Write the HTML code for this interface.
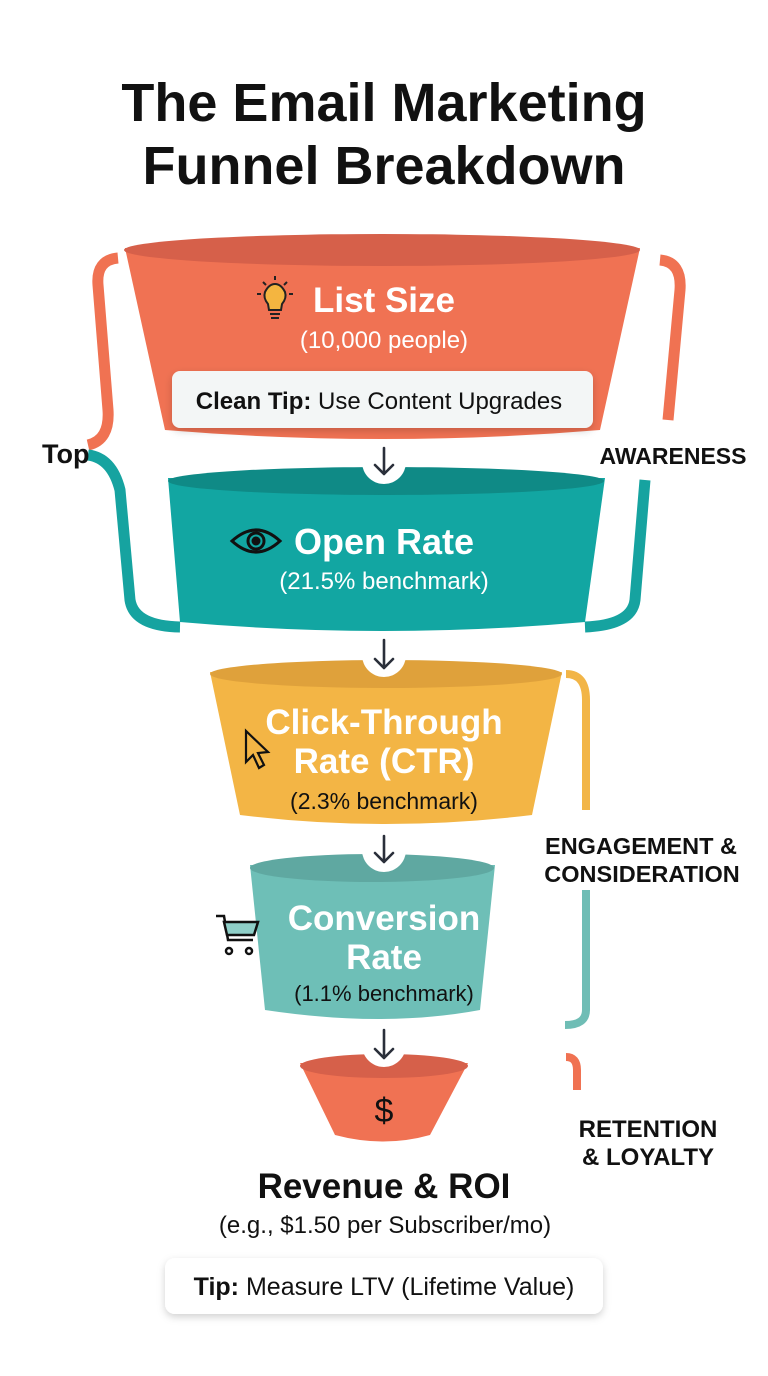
<!DOCTYPE html>
<html><head><meta charset="utf-8"><style>
html,body{margin:0;padding:0;background:#fff;}
svg{display:block;font-family:"Liberation Sans",sans-serif;}
</style></head><body>
<svg width="768" height="1376" viewBox="0 0 768 1376" xmlns="http://www.w3.org/2000/svg">
<defs>
<filter id="sh" x="-10%" y="-30%" width="120%" height="170%"><feDropShadow dx="0" dy="3" stdDeviation="4" flood-color="#000" flood-opacity="0.18"/></filter>
</defs>
<text x="384" y="121" text-anchor="middle" font-size="54" font-weight="bold" fill="#111">The Email Marketing</text>
<text x="384" y="184" text-anchor="middle" font-size="54" font-weight="bold" fill="#111">Funnel Breakdown</text>

<!-- brackets left -->
<path d="M118 258 Q96 260 98 285 L108 410 Q110 440 88 445" fill="none" stroke="#f07252" stroke-width="11"/>
<path d="M88 455 Q112 458 120 490 L130 600 Q134 626 180 627" fill="none" stroke="#16a3a0" stroke-width="11"/>
<text x="42" y="463" font-size="27" font-weight="bold" fill="#111">Top</text>
<!-- brackets right -->
<path d="M660 260 Q682 262 680 290 L668 420" fill="none" stroke="#f07252" stroke-width="11"/>
<path d="M645 480 L635 600 Q632 625 585 627" fill="none" stroke="#16a3a0" stroke-width="11"/>
<text x="673" y="464" text-anchor="middle" font-size="23" font-weight="bold" fill="#111">AWARENESS</text>
<path d="M566 674 Q586 674 586 700 L586 810" fill="none" stroke="#f2b547" stroke-width="8"/>
<path d="M586 890 L586 1010 Q586 1025 565 1025" fill="none" stroke="#6fbdb5" stroke-width="8"/>
<text x="641" y="854" text-anchor="middle" font-size="23.5" font-weight="bold" fill="#111">ENGAGEMENT &amp;</text>
<text x="642" y="882" text-anchor="middle" font-size="23.5" font-weight="bold" fill="#111">CONSIDERATION</text>
<path d="M566 1057 Q577 1057 577 1070 L577 1090" fill="none" stroke="#f07252" stroke-width="8"/>
<text x="648" y="1137" text-anchor="middle" font-size="24" font-weight="bold" fill="#111">RETENTION</text>
<text x="648" y="1165" text-anchor="middle" font-size="24" font-weight="bold" fill="#111">&amp; LOYALTY</text>

<!-- funnel 1 -->
<path d="M125 248 L640 248 L600 430 Q384 448 165 430 Z" fill="#f07253"/>
<ellipse cx="382" cy="250" rx="258" ry="16" fill="#d6604a"/>
<text x="384" y="312" text-anchor="middle" font-size="35" font-weight="bold" fill="#fff">List Size</text>
<g transform="translate(275,300)" fill="none" stroke="#222" stroke-width="2">
<path d="M-7 4 Q-12 -2 -10 -8 Q-6 -16 0 -16 Q6 -16 10 -8 Q12 -2 7 4 L6 10 L-6 10 Z" fill="#f4b540"/>
<line x1="-5" y1="14" x2="5" y2="14"/><line x1="-4" y1="18" x2="4" y2="18"/>
<line x1="-18" y1="-6" x2="-14" y2="-6"/><line x1="14" y1="-6" x2="18" y2="-6"/><line x1="0" y1="-24" x2="0" y2="-20"/>
<line x1="-12" y1="-18" x2="-9" y2="-15"/><line x1="12" y1="-18" x2="9" y2="-15"/>
</g>
<text x="384" y="348" text-anchor="middle" font-size="24" fill="#fff">(10,000 people)</text>
<rect x="172" y="371" width="421" height="57" rx="8" fill="#f3f6f6" filter="url(#sh)"/>
<text x="379" y="409" text-anchor="middle" font-size="24" fill="#111"><tspan font-weight="bold">Clean Tip:</tspan> Use Content Upgrades</text>

<!-- funnel 2 -->
<path d="M168 478 L605 478 L585 622 Q384 640 180 622 Z" fill="#12a6a2"/>
<ellipse cx="386" cy="481" rx="218" ry="14" fill="#0f8a86"/>
<text x="384" y="554" text-anchor="middle" font-size="36" font-weight="bold" fill="#fff">Open Rate</text>
<g transform="translate(256,541)" fill="none" stroke="#111" stroke-width="3">
<path d="M-24 0 Q0 -22 24 0 Q0 22 -24 0 Z"/><circle r="8"/><circle r="3" fill="#111"/>
</g>
<text x="384" y="589" text-anchor="middle" font-size="24" fill="#fff">(21.5% benchmark)</text>

<!-- funnel 3 -->
<path d="M210 672 L562 672 L532 815 Q384 833 240 815 Z" fill="#f3b545"/>
<ellipse cx="386" cy="674" rx="176" ry="14" fill="#dfa13b"/>
<text x="384" y="734" text-anchor="middle" font-size="35" font-weight="bold" fill="#fff">Click-Through</text>
<text x="384" y="773" text-anchor="middle" font-size="35" font-weight="bold" fill="#fff">Rate (CTR)</text>
<path d="M246 731 L246 762 L253 755 L259 768 L264 765 L258 753 L268 752 Z" fill="none" stroke="#111" stroke-width="2.2"/>
<text x="384" y="809" text-anchor="middle" font-size="23" fill="#111">(2.3% benchmark)</text>

<!-- funnel 4 -->
<path d="M250 865 L495 865 L480 1010 Q384 1028 265 1010 Z" fill="#6ebfb7"/>
<ellipse cx="372" cy="868" rx="122" ry="14" fill="#5fa8a1"/>
<text x="384" y="930" text-anchor="middle" font-size="35" font-weight="bold" fill="#fff">Conversion</text>
<text x="384" y="969" text-anchor="middle" font-size="35" font-weight="bold" fill="#fff">Rate</text>
<g fill="none" stroke="#111" stroke-width="2.5">
<path d="M216 916 L224 916 L228 940 L253 940"/><path d="M224 922 L258 922 L254 935 L227 935 Z" fill="#8fcfc8"/>
<circle cx="229" cy="951" r="3"/><circle cx="249" cy="951" r="3"/>
</g>
<text x="384" y="1001" text-anchor="middle" font-size="22" fill="#111">(1.1% benchmark)</text>

<!-- funnel 5 -->
<path d="M300 1063 L468 1063 L430 1135 Q384 1148 335 1135 Z" fill="#f07253"/>
<ellipse cx="384" cy="1066" rx="84" ry="12" fill="#d6604a"/>
<text x="384" y="1122" text-anchor="middle" font-size="34" fill="#111">$</text>

<!-- arrows -->
<g>
<circle cx="384" cy="462" r="22" fill="#fff"/><circle cx="384" cy="655" r="22" fill="#fff"/>
<circle cx="384" cy="850" r="22" fill="#fff"/><circle cx="384" cy="1045" r="22" fill="#fff"/>
</g>
<g fill="none" stroke="#2a2f3a" stroke-width="2.6" stroke-linecap="round" stroke-linejoin="round">
<path d="M384 448 L384 474 M375 465 L384 474 L393 465"/>
<path d="M384 640 L384 668 M375 659 L384 668 L393 659"/>
<path d="M384 836 L384 862 M375 853 L384 862 L393 853"/>
<path d="M384 1030 L384 1058 M375 1049 L384 1058 L393 1049"/>
</g>

<text x="384" y="1198" text-anchor="middle" font-size="35" font-weight="bold" fill="#111">Revenue &amp; ROI</text>
<text x="385" y="1233" text-anchor="middle" font-size="24" fill="#111">(e.g., $1.50 per Subscriber/mo)</text>
<rect x="165" y="1258" width="438" height="56" rx="10" fill="#fff" filter="url(#sh)"/>
<text x="384" y="1295" text-anchor="middle" font-size="25" fill="#111"><tspan font-weight="bold">Tip:</tspan> Measure LTV (Lifetime Value)</text>
</svg>
</body></html>
